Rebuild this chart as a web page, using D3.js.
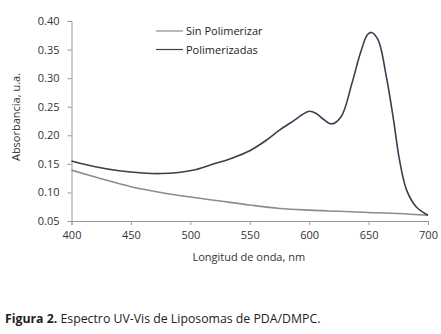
<!DOCTYPE html>
<html>
<head>
<meta charset="utf-8">
<script src="https://cdn.jsdelivr.net/npm/d3@7"></script>
<style>
  body { margin: 0; background: #fff; }
  .axis text { font-family: "Open Sans", sans-serif; font-size: 11px; fill: #333; }
  .axis path, .axis line { stroke: #999; }
</style>
</head>
<body>
<div class="chart"></div>
<script>
// wavelength (nm) and absorbance values
const wlSin = [400, 425, 450, 475, 500, 525, 550, 575, 600, 625, 650, 675, 700]
const absSin = [0.139, 0.124, 0.110, 0.100, 0.092, 0.085, 0.078, 0.072, 0.069, 0.067, 0.065, 0.063, 0.060]

const wlPol = [400, 420, 440, 460, 475, 490, 505, 520, 535, 550, 563, 575, 588, 594, 600, 606, 612, 619, 627, 636, 643, 649, 652.5, 658, 665, 671, 676, 682, 690, 700]
const absPol = [0.155, 0.145, 0.138, 0.134, 0.133, 0.135, 0.140, 0.150, 0.160, 0.173, 0.190, 0.209, 0.227, 0.236, 0.242, 0.238, 0.228, 0.220, 0.233, 0.291, 0.343, 0.376, 0.380, 0.367, 0.302, 0.227, 0.157, 0.104, 0.075, 0.060]

const series = [
  { name: "Sin Polimerizar", x: wlSin, y: absSin, color: "#8c8c8c" },
  { name: "Polimerizadas", x: wlPol, y: absPol, color: "#39404f" }
]

const xTicks = [400, 450, 500, 550, 600, 650, 700]
const yTicks = [0.05, 0.10, 0.15, 0.20, 0.25, 0.30, 0.35, 0.40]

const width = 441
const height = 334
const margin = { top: 21, right: 13, bottom: 113, left: 71.5 }
const graphWidth = width - margin.left - margin.right
const graphHeight = height - margin.top - margin.bottom

const svg = d3.select(".chart").append("svg").attr("width", width).attr("height", height)

const graph = svg.append("g").attr("transform", `translate(${margin.left}, ${margin.top})`)

const xScale = d3.scaleLinear().domain([400, 700]).range([0, graphWidth])
const yScale = d3.scaleLinear().domain([0.05, 0.40]).range([graphHeight, 0])

const xAxis = d3.axisBottom(xScale).tickValues(xTicks).tickSize(4).tickPadding(6).tickFormat(d3.format("d"))
const yAxis = d3.axisLeft(yScale).tickValues(yTicks).tickSize(4).tickPadding(8).tickFormat(d3.format(".2f"))

graph.append("g").attr("class", "axis").attr("transform", `translate(0, ${graphHeight})`).call(xAxis)
graph.append("g").attr("class", "axis").call(yAxis)

const line = d3.line()
  .x(d => xScale(d[0]))
  .y(d => yScale(d[1]))
  .curve(d3.curveCatmullRom.alpha(0.5)) // smooth spectrum through the read points

series.forEach(s => {
  graph.append("path")
    .datum(s.x.map((v, i) => [v, s.y[i]]))
    .attr("fill", "none")
    .attr("stroke", s.color)
    .attr("stroke-width", 1.6)
    .attr("d", line)
})

// legend
const legend = svg.append("g").attr("transform", "translate(156, 31)")
series.forEach((s, i) => {
  const row = legend.append("g").attr("transform", `translate(0, ${i * 18.5})`)
  row.append("line").attr("x1", 0).attr("x2", 27).attr("stroke", s.color).attr("stroke-width", 1.2)
  row.append("text").attr("x", 30).attr("y", 4)
    .style("font-family", "'Open Sans', sans-serif").style("font-size", "11px").style("fill", "#222")
    .text(s.name)
})

// axis titles
svg.append("text")
  .attr("x", margin.left + graphWidth / 2 - 1).attr("y", 261)
  .attr("text-anchor", "middle")
  .style("font-family", "'Open Sans', sans-serif").style("font-size", "11px").style("fill", "#333")
  .text("Longitud de onda, nm")

svg.append("text")
  .attr("transform", `translate(20, ${margin.top + graphHeight / 2 - 4}) rotate(-90)`)
  .attr("text-anchor", "middle")
  .style("font-family", "'Open Sans', sans-serif").style("font-size", "11px").style("fill", "#333")
  .text("Absorbancia, u.a.")

// caption
const caption = svg.append("text").attr("x", 5).attr("y", 323)
  .style("font-family", "'Open Sans', sans-serif").style("font-size", "12.3px").style("fill", "#222")
caption.append("tspan").style("font-weight", "bold").text("Figura 2.")
caption.append("tspan").text(" Espectro UV-Vis de Liposomas de PDA/DMPC.")
</script>
</body>
</html>
